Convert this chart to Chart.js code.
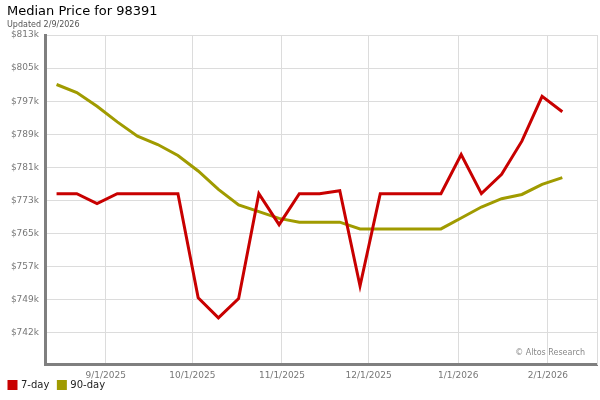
<!DOCTYPE html>
<html>
<head>
<meta charset="utf-8">
<script src="https://cdn.jsdelivr.net/npm/chart.js@4.4.1/dist/chart.umd.min.js"></script>
<style>
  html, body { margin: 0; padding: 0; background: #fff; }
  #wrap { position: relative; width: 600px; height: 400px; font-family: 'DejaVu Sans', sans-serif; }
  #title { position: absolute; left: 7px; top: 3px; font-size: 13px; color: #000; white-space: nowrap; }
  #updated { position: absolute; left: 7px; top: 20px; font-size: 8px; color: #555; white-space: nowrap; }
  #credit { position: absolute; right: 15px; top: 348px; font-size: 8px; color: #888; white-space: nowrap; }
  canvas { position: absolute; left: 0; top: 0; }
</style>
</head>
<body>
<div id="wrap">
  <canvas id="chart" width="600" height="400"></canvas>
  <div id="title">Median Price for 98391</div>
  <div id="updated">Updated 2/9/2026</div>
  <div id="credit">© Altos Research</div>
</div>
<script>
// Weekly data points
const dates = ['2025-08-15', '2025-08-22', '2025-08-29', '2025-09-05', '2025-09-12', '2025-09-19', '2025-09-26',
  '2025-10-03', '2025-10-10', '2025-10-17', '2025-10-24', '2025-10-31', '2025-11-07', '2025-11-14',
  '2025-11-21', '2025-11-28', '2025-12-05', '2025-12-12', '2025-12-19', '2025-12-26', '2026-01-02',
  '2026-01-09', '2026-01-16', '2026-01-23', '2026-01-30', '2026-02-06'];

// Median price, in $k
const sevenDay = [775.2, 775.2, 772.8, 775.2, 775.2, 775.2, 775.2, 750.4, 745.6, 750.2, 775.2, 767.8, 775.2,
  775.2, 775.9, 753.2, 775.2, 775.2, 775.2, 775.2, 784.5, 775.2, 779.8, 787.7, 798.4, 794.7];
const ninetyDay = [801.2, 799.3, 796.0, 792.3, 788.9, 786.9, 784.3, 780.6, 776.2, 772.5, 770.9, 769.3, 768.4,
  768.4, 768.4, 766.8, 766.8, 766.8, 766.8, 766.8, 769.4, 772.0, 774.0, 775.0, 777.4, 779.0];

// Axis ticks
const yTickValues = [813, 805.11, 797.22, 789.33, 781.44, 773.55, 765.66, 757.77, 749.88, 741.99];
const yTickLabels = ['$813k', '$805k', '$797k', '$789k', '$781k', '$773k', '$765k', '$757k', '$749k', '$742k'];
const monthTicks = ['2025-09-01', '2025-10-01', '2025-11-01', '2025-12-01', '2026-01-01', '2026-02-01'];
const monthLabels = ['9/1/2025', '10/1/2025', '11/1/2025', '12/1/2025', '1/1/2026', '2/1/2026'];

const xStart = '2025-08-11';
const xEnd = '2026-02-18';
const yMin = 734.6;
const yMax = 813;

const FONT = "'DejaVu Sans', sans-serif";
const GRID = '#dcdcdc';
const AXIS = '#7f7f7f';
const TICK = '#777';

// dia a partir da data (UTC)
function dayNum(s) {
    return Date.parse(s + 'T00:00:00Z') / 86400000;
}

function toPoints(values) {
    return dates.map((d, i) => ({ x: dayNum(d), y: values[i] }));
}

const ctx = document.getElementById('chart').getContext('2d');
new Chart(ctx, {
    type: 'line',
    data: {
        datasets: [{
            label: '7-day',
            data: toPoints(sevenDay),
            borderColor: '#c80000',
            backgroundColor: '#c80000',
            borderWidth: 3,
            pointRadius: 0,
            tension: 0
        }, {
            label: '90-day',
            data: toPoints(ninetyDay),
            borderColor: '#a09b00',
            backgroundColor: '#a09b00',
            borderWidth: 3,
            pointRadius: 0,
            tension: 0
        }]
    },
    options: {
        responsive: false,
        animation: false,
        devicePixelRatio: 1,
        layout: { padding: { left: 0, right: 3, top: 35, bottom: 0 } },
        plugins: {
            legend: {
                position: 'bottom',
                align: 'start',
                labels: {
                    boxWidth: 7,
                    boxHeight: 7,
                    padding: 9,
                    color: '#222',
                    font: { family: FONT, size: 10 }
                }
            },
            tooltip: { enabled: false }
        },
        scales: {
            // eixo de datas preso ao fundo da área do gráfico
            x: {
                type: 'linear',
                axis: 'x',
                position: { y: yMin },
                min: dayNum(xStart),
                max: dayNum(xEnd),
                afterBuildTicks: scale => {
                    scale.ticks = monthTicks.map(d => ({ value: dayNum(d) }));
                },
                ticks: {
                    callback: (v, i) => monthLabels[i],
                    color: TICK,
                    font: { family: FONT, size: 9 },
                    padding: 6,
                    maxRotation: 0,
                    autoSkip: false
                },
                grid: { color: GRID, drawTicks: false },
                border: { color: AXIS, width: 3 }
            },
            // espaço reservado abaixo do eixo x
            xSpace: {
                type: 'linear',
                axis: 'x',
                position: 'bottom',
                display: true,
                afterFit: scale => { scale.height = 7; },
                ticks: { display: false },
                grid: { display: false, drawTicks: false },
                border: { display: false }
            },
            y: {
                min: yMin,
                max: yMax,
                afterBuildTicks: scale => {
                    scale.ticks = yTickValues.map(v => ({ value: v }));
                },
                afterFit: scale => { scale.width = 45; },
                ticks: {
                    callback: (v, i) => yTickLabels[i],
                    color: TICK,
                    font: { family: FONT, size: 9 },
                    padding: 6,
                    autoSkip: false
                },
                grid: { color: GRID, drawTicks: false },
                border: { color: AXIS, width: 3 }
            },
            yRight: {
                position: 'right',
                min: yMin,
                max: yMax,
                ticks: { display: false },
                grid: { display: false, drawTicks: false },
                border: { color: GRID, width: 1 }
            }
        }
    }
});
</script>
</body>
</html>
